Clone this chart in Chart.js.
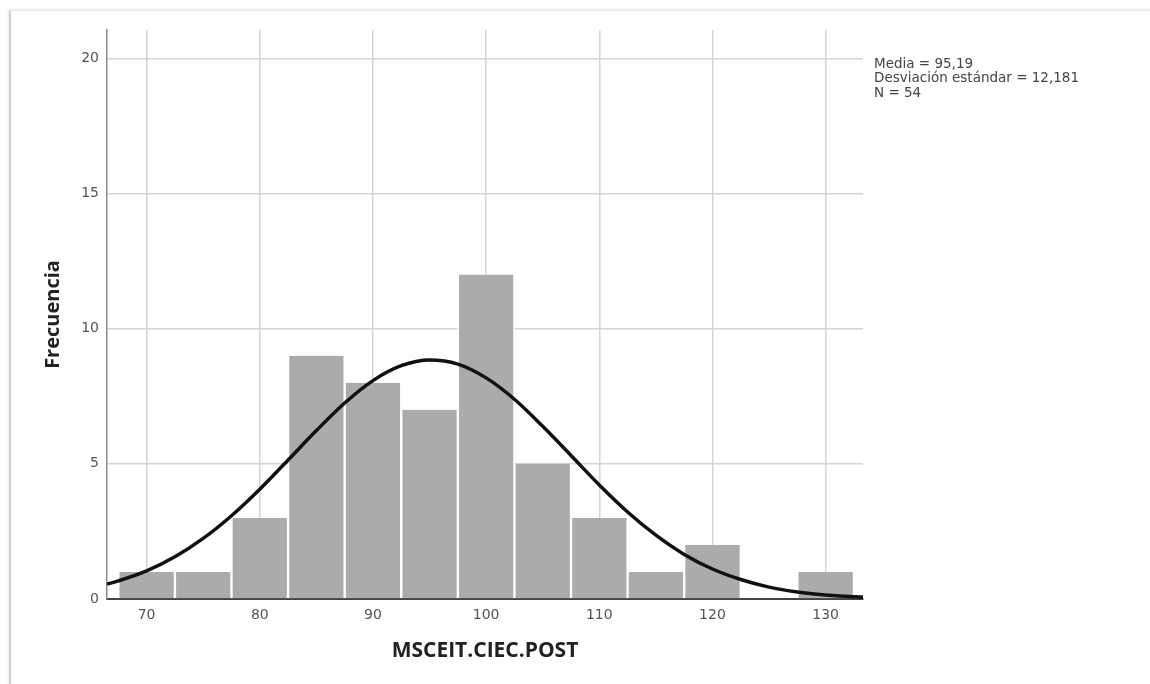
<!DOCTYPE html>
<html>
<head>
<meta charset="utf-8">
<script src="https://cdn.jsdelivr.net/npm/chart.js@4/dist/chart.umd.min.js"></script>
<style>
    html, body { margin: 0; padding: 0; background: #fff; }
    #wrap { position: relative; width: 1150px; height: 684px; overflow: hidden; }
    #frame {
        position: absolute; left: 9px; top: 10px; width: 1139px; height: 700px;
        border-left: 2px solid #cfcfcf; border-top: 1px solid #e6e6e6; border-right: 1px solid #ececec;
        box-shadow: -1px -1px 3px rgba(0,0,0,0.08);
        background: #fff;
    }
    #histo { position: absolute; left: 0; top: 0; }
</style>
</head>
<body>
<div id="wrap">
    <div id="frame"></div>
    <canvas id="histo" width="1150" height="684"></canvas>
</div>
<script>
// ============================================================
// Histograma MSCEIT.CIEC.POST con curva normal
// ============================================================

// centros de los intervalos (ancho 5) y frecuencias
const binCenters = [70, 75, 80, 85, 90, 95, 100, 105, 110, 115, 120, 125, 130];
const binCounts  = [1, 1, 3, 9, 8, 7, 12, 5, 3, 1, 2, 0, 1];

// curva normal ajustada (Media 95,19, DE 12,181, N 54, ancho 5)
const curveX = [66.5, 67.5, 70, 72.5, 75, 77.5, 80, 82.5, 85, 87.5, 90, 92.5, 95, 97.5, 100, 102.5,
                105, 107.5, 110, 112.5, 115, 117.5, 120, 122.5, 125, 127.5, 130, 132.5, 133.3];
const curveY = [0.55, 0.67, 1.04, 1.56, 2.24, 3.08, 4.06, 5.14, 6.23, 7.25, 8.08, 8.63, 8.84, 8.69, 8.18, 7.39,
                6.39, 5.31, 4.22, 3.22, 2.36, 1.65, 1.11, 0.72, 0.44, 0.26, 0.15, 0.08, 0.07];

const xTicks = [70, 80, 90, 100, 110, 120, 130];
const yTicks = [0, 5, 10, 15, 20];

const statsLines = ['Media = 95,19', 'Desviación estándar = 12,181', 'N = 54'];

const statsBox = {
    id: 'statsBox',
    afterDraw(chart) {
        const ctx = chart.ctx;
        ctx.save();
        ctx.fillStyle = '#444';
        ctx.font = '13.5px "DejaVu Sans", sans-serif';
        ctx.textBaseline = 'middle';
        statsLines.forEach((t, i) => ctx.fillText(t, 874, 64 + i * 14.5));
        ctx.restore();
    }
};

const ctx = document.getElementById('histo').getContext('2d');
new Chart(ctx, {
    type: 'bar',
    data: {
        datasets: [
            {
                type: 'line',
                data: curveX.map((x, i) => ({ x: x, y: curveY[i] })),
                borderColor: '#111',
                borderWidth: 3.5,
                pointRadius: 0,
                cubicInterpolationMode: 'monotone',
                fill: false,
                order: 0
            },
            {
                type: 'bar',
                data: binCenters.map((x, i) => ({ x: x, y: binCounts[i] })),
                backgroundColor: '#ababab',
                borderColor: '#ffffff',
                borderWidth: { left: 1.5, right: 1.5, top: 0, bottom: 0 },
                borderSkipped: false,
                barPercentage: 1,
                categoryPercentage: 1,
                order: 1
            }
        ]
    },
    options: {
        responsive: false,
        animation: false,
        layout: { padding: { left: 0, right: 287, top: 30, bottom: 0 } },
        plugins: { legend: { display: false }, tooltip: { enabled: false } },
        scales: {
            x: {
                type: 'linear',
                min: 66.5, max: 133.3,
                offset: false,
                afterFit: s => { s.height = 85; },
                afterBuildTicks: s => { s.ticks = xTicks.map(v => ({ value: v })); },
                grid: { color: '#d4d4d4', lineWidth: 1.5, drawTicks: false, offset: false },
                border: { color: '#444', width: 2 },
                ticks: { padding: 8, color: '#555', font: { family: '"DejaVu Sans", sans-serif', size: 14 } },
                title: {
                    display: true, text: 'MSCEIT.CIEC.POST', color: '#222',
                    font: { family: '"Open Sans", sans-serif', size: 21, weight: 'bold' },
                    padding: { top: 0, bottom: 20 }
                }
            },
            y: {
                min: 0, max: 21.05,
                afterFit: s => { s.width = 107; },
                afterBuildTicks: s => { s.ticks = yTicks.map(v => ({ value: v })); },
                grid: { color: '#d4d4d4', lineWidth: 1.5, drawTicks: false },
                border: { color: '#8a8a8a', width: 1.5 },
                ticks: { padding: 8, color: '#555', font: { family: '"DejaVu Sans", sans-serif', size: 14 } },
                title: {
                    display: true, text: 'Frecuencia', color: '#222',
                    font: { family: '"Open Sans", sans-serif', size: 20, weight: 'bold' },
                    padding: { top: 41, bottom: 0 }
                }
            }
        }
    },
    plugins: [statsBox]
});
</script>
</body>
</html>
